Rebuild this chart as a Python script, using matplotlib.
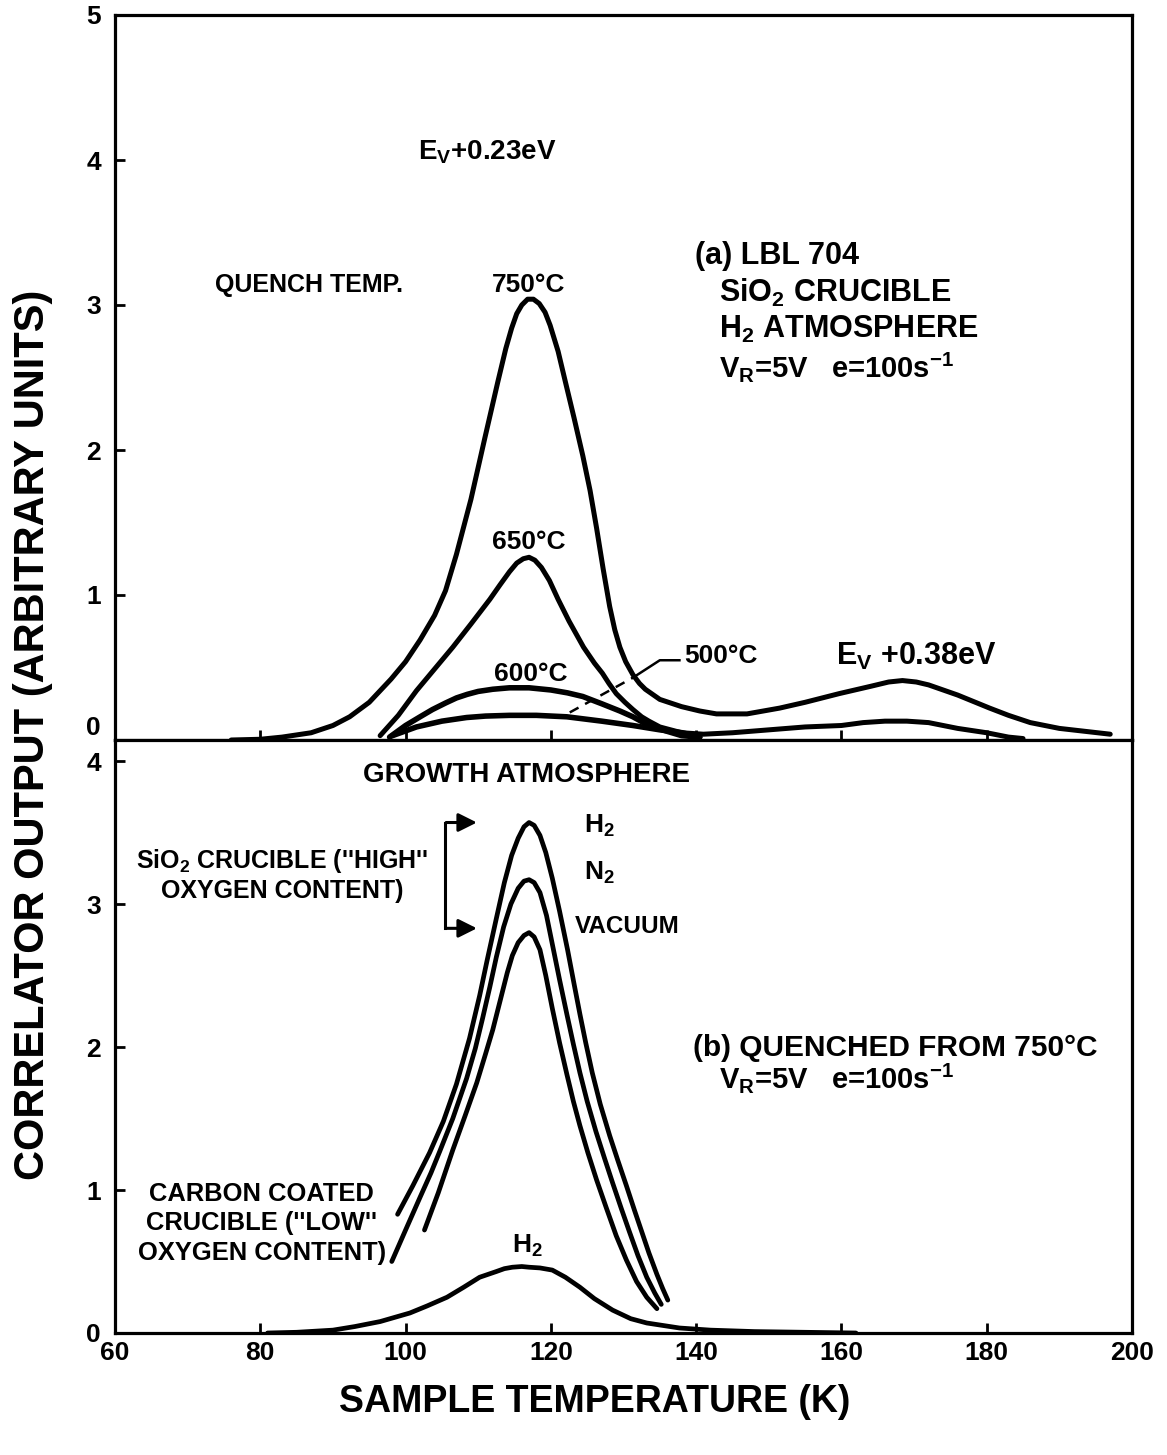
import matplotlib
matplotlib.use("Agg")
import matplotlib.pyplot as plt
from matplotlib import font_manager as fm

# --- data ---
# (a) quench temperature series, SiO2 crucible, H2 atmosphere
t750 = [76, 80, 83, 87, 90, 92.3, 95, 98, 100, 102, 104, 105.5, 107, 109, 110.9, 112.7, 113.8, 114.6, 115.3,
        116, 116.8, 117.6, 118.4, 119.2, 119.9, 121, 122, 123.2, 124.4, 125.4, 126.3, 127.2, 128.1, 128.8,
        129.5, 130.3, 131.3, 132.2, 133, 135, 138, 140.5, 142.8, 147, 151.5, 155, 159.7, 164, 166.5, 168.4,
        170.3, 172, 176, 180.4, 183, 186, 190, 193.5, 197]
c750 = [0, 0.005, 0.02, 0.05, 0.1, 0.16, 0.26, 0.42, 0.54, 0.69, 0.86, 1.03, 1.28, 1.66, 2.08, 2.47, 2.7, 2.84,
        2.94, 3.0, 3.04, 3.04, 3.01, 2.95, 2.86, 2.68, 2.47, 2.22, 1.96, 1.72, 1.46, 1.18, 0.92, 0.76,
        0.64, 0.54, 0.45, 0.39, 0.35, 0.28, 0.23, 0.2, 0.18, 0.18, 0.22, 0.26, 0.32, 0.37, 0.40, 0.41,
        0.40, 0.38, 0.31, 0.22, 0.17, 0.12, 0.08, 0.06, 0.04]

t650 = [96.5, 99, 101.5, 104, 106.5, 109, 111.6, 113, 114.3, 115.3, 116.2, 117, 117.8, 118.7, 119.8, 121,
        122.5, 124.5, 126, 127.1, 128, 129, 130.2, 131.3, 132.5, 133.5, 135, 136.5, 138, 141, 145, 150, 155,
        160, 163, 166, 169, 172, 176, 180, 183, 185]
c650 = [0.03, 0.17, 0.34, 0.49, 0.64, 0.8, 0.97, 1.07, 1.16, 1.22, 1.25, 1.26, 1.24, 1.19, 1.1, 0.97,
        0.82, 0.64, 0.53, 0.46, 0.39, 0.32, 0.26, 0.21, 0.16, 0.13, 0.09, 0.07, 0.05, 0.04, 0.05, 0.07, 0.09,
        0.1, 0.12, 0.13, 0.13, 0.12, 0.08, 0.05, 0.02, 0.01]

t600 = [97.8, 100, 102, 103.7, 105.5, 107, 108.5, 110, 112, 114.3, 117, 120, 122.3, 124.4, 127, 129.5, 131.3,
        133.5, 136, 138, 140.5]
c600 = [0.02, 0.1, 0.16, 0.21, 0.255, 0.29, 0.315, 0.335, 0.35, 0.36, 0.36, 0.345, 0.325, 0.30, 0.25, 0.2,
        0.16, 0.1, 0.06, 0.03, 0.02]

t500 = [98.2, 101.5, 105, 108.4, 111, 114.3, 118, 122.2, 127, 131.3, 135, 138.1, 140.5]
c500 = [0.03, 0.09, 0.13, 0.155, 0.165, 0.17, 0.17, 0.16, 0.13, 0.10, 0.07, 0.05, 0.02]

# (b) quenched from 750 C, growth atmosphere
tH2 = [98.9, 101, 103.3, 105.2, 107, 108.8, 110.2, 111.2, 112.5, 113.6, 114.6, 115.5, 116.3, 117, 117.7,
       118.5, 119.3, 120.2, 121.2, 122.3, 123.2, 124, 124.8, 125.7, 126.8, 128.1, 129.2, 130.4, 131.5, 132.5,
       133.5, 134.6, 135.4, 136.1]
cH2 = [0.83, 1.03, 1.26, 1.48, 1.74, 2.06, 2.36, 2.6, 2.9, 3.15, 3.34, 3.46, 3.54, 3.57, 3.55,
       3.48, 3.36, 3.18, 2.95, 2.68, 2.44, 2.23, 2.03, 1.82, 1.60, 1.38, 1.21, 1.03, 0.86, 0.71,
       0.56, 0.41, 0.31, 0.23]

tN2 = [98.1, 100, 102, 103.5, 104.7, 106.5, 108.4, 109.6, 110.6, 111.6, 112.5, 113.5, 114.5, 115.5, 116.3,
       117, 117.7, 118.5, 119.4, 120.2, 121.2, 122.2, 123.1, 124, 125, 126.2, 127.4, 128.5, 129.7, 130.8,
       132, 133.2, 134.3, 135.2]
cN2 = [0.50, 0.72, 0.95, 1.12, 1.27, 1.5, 1.78, 1.99, 2.2, 2.42, 2.63, 2.84, 3.0, 3.11, 3.16,
       3.17, 3.15, 3.08, 2.92, 2.72, 2.47, 2.23, 2.02, 1.82, 1.62, 1.41, 1.22, 1.05, 0.87, 0.71,
       0.54, 0.39, 0.28, 0.2]

tVac = [102.6, 104.5, 106.5, 108.2, 109.8, 111, 112, 113, 114, 114.7, 115.5, 116.3, 117, 117.7, 118.5,
        119.3, 120.2, 121.2, 122.2, 123.1, 124, 125.1, 126.3, 127.6, 129, 130.4, 131.8, 133.2, 134.6]
cVac = [0.72, 0.98, 1.28, 1.52, 1.75, 1.95, 2.12, 2.32, 2.52, 2.64, 2.73, 2.78, 2.80, 2.77, 2.68,
        2.5, 2.27, 2.03, 1.81, 1.62, 1.45, 1.26, 1.07, 0.88, 0.68, 0.51, 0.36, 0.25, 0.17]

tC = [81, 85, 90, 93, 96.5, 100.6, 103, 105.7, 108, 110.2, 112.5, 113.6, 114.7, 116, 117, 118.5, 120.2,
      122, 124, 126, 128.5, 131, 133.2, 137.7, 142, 148, 155, 162]
cC = [0, 0.005, 0.02, 0.045, 0.08, 0.14, 0.19, 0.25, 0.32, 0.39, 0.43, 0.45, 0.46, 0.465, 0.46, 0.455, 0.44,
      0.39, 0.32, 0.24, 0.16, 0.1, 0.07, 0.035, 0.02, 0.01, 0.005, 0]

xticks = [60, 80, 100, 120, 140, 160, 180, 200]

names = {f.name for f in fm.fontManager.ttflist}
narrow = "Liberation Sans Narrow" if "Liberation Sans Narrow" in names else "Liberation Sans"
plt.rcParams["font.family"] = "Liberation Sans"
plt.rcParams["font.weight"] = "bold"
plt.rcParams["mathtext.fontset"] = "custom"
plt.rcParams["mathtext.rm"] = "Liberation Sans:bold"
plt.rcParams["mathtext.it"] = "Liberation Sans:bold"
plt.rcParams["mathtext.bf"] = "Liberation Sans:bold"

fig = plt.figure(figsize=(11.67, 14.55), dpi=100)
W, H = 1167, 1455
ax1 = fig.add_axes([115 / W, 1 - 740 / H, 1017 / W, 725 / H])
ax2 = fig.add_axes([115 / W, 1 - 1333 / H, 1017 / W, 593 / H])

for ax in (ax1, ax2):
    ax.set_xlim(60, 200)
    for s in ax.spines.values():
        s.set_linewidth(2.3)
    ax.tick_params(direction="in", length=7, width=2, labelsize=17, pad=10)
    ax.set_xticks(xticks)

ax1.set_ylim(0, 5)
ax1.set_yticks(range(6))
ax1.tick_params(axis="x", labelbottom=False)
ax2.set_ylim(0, 4.147)
ax2.set_yticks(range(5))
ax2.set_xticklabels([str(v) for v in xticks], fontfamily=narrow, fontsize=19)
ax2.tick_params(axis="x", pad=6)
for lab in ax1.get_yticklabels() + ax2.get_yticklabels():
    lab.set_fontfamily(narrow)
    lab.set_fontsize(19)
ax1.get_yticklabels()[0].set_va("bottom")

lw = 3.6
ax1.plot(t750, c750, color="k", lw=lw, solid_capstyle="round", solid_joinstyle="round")
ax1.plot(t650, c650, color="k", lw=lw, solid_capstyle="round", solid_joinstyle="round")
ax1.plot(t600, c600, color="k", lw=4, solid_capstyle="round", solid_joinstyle="round")
ax1.plot(t500, c500, color="k", lw=4, solid_capstyle="round", solid_joinstyle="round")
# 500 C leader
ax1.plot([122.6, 131.3], [0.19, 0.43], color="k", lw=1.8, ls=(0, (4, 3)))
ax1.plot([131.3, 135, 137.7], [0.43, 0.55, 0.55], color="k", lw=1.8)

fs = 19
ax1.text(101.7, 4.0, "E$_\\mathrm{V}$+0.23eV", fontsize=20)
ax1.text(73.8, 3.09, "QUENCH TEMP.", fontsize=18)
ax1.text(116.9, 3.09, "750°C", fontsize=fs, ha="center")
ax1.text(116.9, 1.32, "650°C", fontsize=fs, ha="center")
ax1.text(117.3, 0.41, "600°C", fontsize=fs, ha="center")
ax1.text(138.4, 0.53, "500°C", fontsize=fs)
ax1.text(159.2, 0.52, "E$_\\mathrm{V}$ +0.38eV", fontsize=22)
ax1.text(139.8, 3.28, "(a) LBL 704", fontsize=22)
ax1.text(143.2, 3.02, "SiO$_2$ CRUCIBLE", fontsize=22)
ax1.text(143.2, 2.77, "H$_2$ ATMOSPHERE", fontsize=22)
ax1.text(143.2, 2.50, "V$_R$=5V   e=100s$^{-1}$", fontsize=21)

blw = 3.4
for tt, cc in ((tH2, cH2), (tN2, cN2), (tVac, cVac), (tC, cC)):
    ax2.plot(tt, cc, color="k", lw=blw, solid_capstyle="round", solid_joinstyle="round")

ax2.text(116.7, 3.85, "GROWTH ATMOSPHERE", fontsize=20, ha="center")
ax2.text(124.6, 3.50, "H$_2$", fontsize=fs)
ax2.text(124.6, 3.17, "N$_2$", fontsize=fs)
ax2.text(123.3, 2.80, "VACUUM", fontsize=17.5)
ax2.text(83.0, 3.25, "SiO$_2$ CRUCIBLE (''HIGH''", fontsize=18, ha="center")
ax2.text(83.0, 3.04, "OXYGEN CONTENT)", fontsize=18, ha="center")
ax2.plot([105.4, 105.4], [3.57, 2.83], color="k", lw=2.2)
for yy in (3.57, 2.83):
    ax2.annotate("", xy=(110.2, yy), xytext=(105.2, yy),
                 arrowprops=dict(arrowstyle="-|>", lw=2.2, color="k", mutation_scale=28))
ax2.text(139.5, 1.94, "(b) QUENCHED FROM 750°C", fontsize=21.5)
ax2.text(143.2, 1.71, "V$_R$=5V   e=100s$^{-1}$", fontsize=21)
ax2.text(80.2, 0.92, "CARBON COATED", fontsize=18.4, ha="center")
ax2.text(80.2, 0.72, "CRUCIBLE (''LOW''", fontsize=18.4, ha="center")
ax2.text(80.2, 0.51, "OXYGEN CONTENT)", fontsize=18.4, ha="center")
ax2.text(116.8, 0.56, "H$_2$", fontsize=fs, ha="center")

fig.text(595 / W, 1 - 1402 / H, "SAMPLE TEMPERATURE (K)", fontsize=27,
         fontfamily=narrow, ha="center", va="center")
fig.text(33 / W, 1 - 735 / H, "CORRELATOR OUTPUT (ARBITRARY UNITS)", fontsize=30,
         fontfamily=narrow, rotation=90, ha="center", va="center")

fig.savefig("out.png", dpi=100)
